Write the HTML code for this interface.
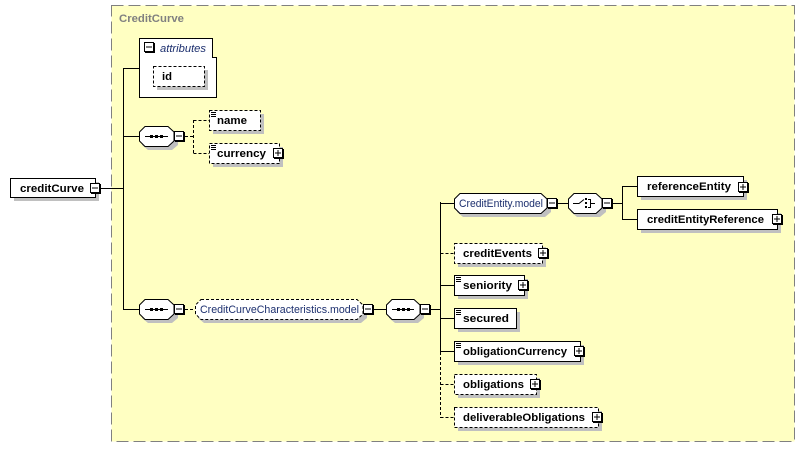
<!DOCTYPE html>
<html><head><meta charset="utf-8"><style>
html,body{margin:0;padding:0;background:#fff;}
svg{display:block;}
text{font-family:"Liberation Sans",Arial,sans-serif;font-size:11px;}
.b{font-weight:bold;fill:#000;}
.m{fill:#1c2f6e;}
</style></head><body>
<svg width="805" height="449" viewBox="0 0 805 449" xmlns="http://www.w3.org/2000/svg">
<defs>
<g id="minus"><rect x="1" y="1" width="10" height="10" fill="#000"/><rect x="0.5" y="0.5" width="9" height="9" fill="#fff" stroke="#000"/><line x1="2" y1="5" x2="8" y2="5" stroke="#000"/></g>
<g id="plus"><rect x="1" y="1" width="10" height="10" fill="#000"/><rect x="0.5" y="0.5" width="9" height="9" fill="#fff" stroke="#000"/><line x1="2" y1="5" x2="8" y2="5" stroke="#000"/><line x1="5" y1="2" x2="5" y2="8" stroke="#000"/></g>
<g id="ico"><line x1="0" y1="0.5" x2="5" y2="0.5" stroke="#000"/><line x1="0" y1="2.5" x2="5" y2="2.5" stroke="#000"/><line x1="0" y1="4.5" x2="5" y2="4.5" stroke="#000"/></g>
</defs>

<!-- yellow group box -->
<rect x="111.5" y="5.5" width="683" height="436" fill="#ffffc2" stroke="#808080" stroke-dasharray="12,5"/>
<text x="119" y="22" class="b" style="fill:#808080" textLength="65" lengthAdjust="spacingAndGlyphs">CreditCurve</text>

<!-- creditCurve root -->
<rect x="14" y="182" width="85" height="19" fill="#c0c0c0"/>
<rect x="10.5" y="178.5" width="85" height="19" fill="#fff" stroke="#000"/>
<text x="20" y="192" class="b" textLength="64" lengthAdjust="spacingAndGlyphs">creditCurve</text>
<use href="#minus" x="90" y="183"/>
<line x1="101" y1="188.5" x2="124" y2="188.5" stroke="#000"/>

<!-- main vertical -->
<line x1="123.5" y1="68" x2="123.5" y2="310" stroke="#000"/>

<!-- attributes -->
<line x1="123.5" y1="68.5" x2="139" y2="68.5" stroke="#000"/>
<polygon points="139.5,38.5 212.5,38.5 212.5,57.5 216.5,57.5 216.5,97.5 139.5,97.5" fill="#fff" stroke="#000"/>
<use href="#minus" x="144" y="42"/>
<text x="160" y="52" class="m" font-style="italic" textLength="46" lengthAdjust="spacingAndGlyphs">attributes</text>
<rect x="157" y="70" width="51" height="20" fill="#c0c0c0"/>
<rect x="153.5" y="66.5" width="51" height="20" fill="#fff" stroke="#000" stroke-dasharray="3,2"/>
<text x="162" y="80" class="b" textLength="10" lengthAdjust="spacingAndGlyphs">id</text>

<!-- sequence 1 -->
<line x1="123.5" y1="136.5" x2="139" y2="136.5" stroke="#000"/>
<polygon points="148,130 172,130 178,136 178,145 172,150 148,150 142,145 142,136" fill="#c0c0c0"/>
<polygon points="145,126.5 168,126.5 174,132 174,141 168,146.5 145,146.5 139.5,141 139.5,132" fill="#fff" stroke="#000"/>
<line x1="145" y1="136.5" x2="168" y2="136.5" stroke="#000"/>
<rect x="150" y="135" width="3" height="3" fill="#000"/><rect x="155" y="135" width="3" height="3" fill="#000"/><rect x="160" y="135" width="3" height="3" fill="#000"/>
<use href="#minus" x="174" y="131"/>
<line x1="185" y1="136.5" x2="193" y2="136.5" stroke="#000" stroke-dasharray="3,2"/>
<line x1="193.5" y1="120" x2="193.5" y2="153" stroke="#000" stroke-dasharray="3,2"/>
<line x1="193.5" y1="120.5" x2="209" y2="120.5" stroke="#000" stroke-dasharray="3,2"/>
<line x1="193.5" y1="153.5" x2="209" y2="153.5" stroke="#000" stroke-dasharray="3,2"/>

<rect x="213" y="114" width="51" height="20" fill="#c0c0c0"/>
<rect x="209.5" y="110.5" width="51" height="20" fill="#fff" stroke="#000" stroke-dasharray="3,2"/>
<use href="#ico" x="211" y="112"/>
<text x="217" y="124" class="b" textLength="30" lengthAdjust="spacingAndGlyphs">name</text>

<rect x="213" y="147" width="70" height="20" fill="#c0c0c0"/>
<rect x="209.5" y="143.5" width="70" height="20" fill="#fff" stroke="#000" stroke-dasharray="3,2"/>
<use href="#ico" x="211" y="145"/>
<text x="217" y="157" class="b" textLength="49" lengthAdjust="spacingAndGlyphs">currency</text>
<use href="#plus" x="273" y="148"/>

<!-- sequence 2 -->
<line x1="123.5" y1="309.5" x2="139" y2="309.5" stroke="#000"/>
<polygon points="148,303 172,303 178,309 178,318 172,323 148,323 142,318 142,309" fill="#c0c0c0"/>
<polygon points="145,299.5 168,299.5 174,305 174,314 168,319.5 145,319.5 139.5,314 139.5,305" fill="#fff" stroke="#000"/>
<line x1="145" y1="309.5" x2="168" y2="309.5" stroke="#000"/>
<rect x="150" y="308" width="3" height="3" fill="#000"/><rect x="155" y="308" width="3" height="3" fill="#000"/><rect x="160" y="308" width="3" height="3" fill="#000"/>
<use href="#minus" x="174" y="304"/>
<line x1="185" y1="309.5" x2="195" y2="309.5" stroke="#000" stroke-dasharray="3,2"/>

<!-- CreditCurveCharacteristics.model -->
<polygon points="204,303 361,303 367,309 367,318 361,323 204,323 198,318 198,309" fill="#c0c0c0"/>
<polygon points="201,299.5 357,299.5 363,305 363,314 357,319.5 201,319.5 195.5,314 195.5,305" fill="#fff" stroke="#000" stroke-dasharray="3,2"/>
<text x="200" y="313" class="m" textLength="159" lengthAdjust="spacingAndGlyphs">CreditCurveCharacteristics.model</text>
<use href="#minus" x="363" y="304"/>
<line x1="374" y1="309.5" x2="386" y2="309.5" stroke="#000"/>

<!-- sequence 3 -->
<polygon points="395,303 418,303 424,309 424,318 418,323 395,323 389,318 389,309" fill="#c0c0c0"/>
<polygon points="392,299.5 414,299.5 420,305 420,314 414,319.5 392,319.5 386.5,314 386.5,305" fill="#fff" stroke="#000"/>
<line x1="392" y1="309.5" x2="414" y2="309.5" stroke="#000"/>
<rect x="397" y="308" width="3" height="3" fill="#000"/><rect x="402" y="308" width="3" height="3" fill="#000"/><rect x="407" y="308" width="3" height="3" fill="#000"/>
<use href="#minus" x="420" y="304"/>
<line x1="431" y1="309.5" x2="440" y2="309.5" stroke="#000"/>

<!-- vertical line right -->
<line x1="440.5" y1="202" x2="440.5" y2="352" stroke="#000"/>
<line x1="440.5" y1="352" x2="440.5" y2="418" stroke="#000" stroke-dasharray="3,2"/>

<!-- CreditEntity.model -->
<line x1="440.5" y1="203.5" x2="454" y2="203.5" stroke="#000"/>
<polygon points="463,197 545,197 551,203 551,212 545,217 463,217 457,212 457,203" fill="#c0c0c0"/>
<polygon points="460,193.5 541,193.5 547,199 547,208 541,213.5 460,213.5 454.5,208 454.5,199" fill="#fff" stroke="#000"/>
<text x="459" y="207" class="m" textLength="84" lengthAdjust="spacingAndGlyphs">CreditEntity.model</text>
<use href="#minus" x="547" y="198"/>
<line x1="558" y1="203.5" x2="568" y2="203.5" stroke="#000"/>

<!-- choice -->
<polygon points="577,197 600,197 606,203 606,212 600,217 577,217 571,212 571,203" fill="#c0c0c0"/>
<polygon points="574,193.5 596,193.5 602,199 602,208 596,213.5 574,213.5 568.5,208 568.5,199" fill="#fff" stroke="#000"/>
<polyline points="573,203.5 579,203.5 584,199.5" fill="none" stroke="#000"/>
<rect x="585" y="198" width="2" height="2" fill="#000"/><rect x="585" y="202" width="2" height="2" fill="#000"/><rect x="585" y="206" width="2" height="2" fill="#000"/>
<polyline points="588,199.5 590.5,199.5 590.5,207.5 588,207.5" fill="none" stroke="#000"/>
<line x1="590" y1="203.5" x2="595" y2="203.5" stroke="#000"/>
<use href="#minus" x="602" y="198"/>
<line x1="613" y1="203.5" x2="622" y2="203.5" stroke="#000"/>
<line x1="622.5" y1="186" x2="622.5" y2="220" stroke="#000"/>
<line x1="622.5" y1="186.5" x2="637" y2="186.5" stroke="#000"/>
<line x1="622.5" y1="219.5" x2="637" y2="219.5" stroke="#000"/>

<rect x="641" y="180" width="106" height="20" fill="#c0c0c0"/>
<rect x="637.5" y="176.5" width="106" height="20" fill="#fff" stroke="#000"/>
<text x="647" y="190" class="b" textLength="84" lengthAdjust="spacingAndGlyphs">referenceEntity</text>
<use href="#plus" x="738" y="182"/>

<rect x="641" y="213" width="140" height="20" fill="#c0c0c0"/>
<rect x="637.5" y="209.5" width="140" height="20" fill="#fff" stroke="#000"/>
<text x="647" y="223" class="b" textLength="117" lengthAdjust="spacingAndGlyphs">creditEntityReference</text>
<use href="#plus" x="772" y="214"/>

<!-- creditEvents -->
<line x1="440.5" y1="253.5" x2="454" y2="253.5" stroke="#000" stroke-dasharray="3,2"/>
<rect x="458" y="247" width="88" height="20" fill="#c0c0c0"/>
<rect x="454.5" y="243.5" width="88" height="20" fill="#fff" stroke="#000" stroke-dasharray="3,2"/>
<text x="463" y="257" class="b" textLength="69" lengthAdjust="spacingAndGlyphs">creditEvents</text>
<use href="#plus" x="538" y="248"/>

<!-- seniority -->
<line x1="440.5" y1="285.5" x2="454" y2="285.5" stroke="#000"/>
<rect x="458" y="279" width="70" height="20" fill="#c0c0c0"/>
<rect x="454.5" y="275.5" width="70" height="20" fill="#fff" stroke="#000"/>
<use href="#ico" x="456" y="277"/>
<text x="463" y="289" class="b" textLength="49" lengthAdjust="spacingAndGlyphs">seniority</text>
<use href="#plus" x="518" y="280"/>

<!-- secured -->
<line x1="440.5" y1="318.5" x2="454" y2="318.5" stroke="#000"/>
<rect x="458" y="312" width="62" height="20" fill="#c0c0c0"/>
<rect x="454.5" y="308.5" width="62" height="20" fill="#fff" stroke="#000"/>
<use href="#ico" x="456" y="310"/>
<text x="463" y="322" class="b" textLength="46" lengthAdjust="spacingAndGlyphs">secured</text>

<!-- obligationCurrency -->
<line x1="440.5" y1="351.5" x2="454" y2="351.5" stroke="#000"/>
<rect x="458" y="345" width="126" height="20" fill="#c0c0c0"/>
<rect x="454.5" y="341.5" width="126" height="20" fill="#fff" stroke="#000"/>
<use href="#ico" x="456" y="343"/>
<text x="463" y="355" class="b" textLength="104" lengthAdjust="spacingAndGlyphs">obligationCurrency</text>
<use href="#plus" x="574" y="346"/>

<!-- obligations -->
<line x1="440.5" y1="384.5" x2="454" y2="384.5" stroke="#000" stroke-dasharray="3,2"/>
<rect x="458" y="378" width="82" height="20" fill="#c0c0c0"/>
<rect x="454.5" y="374.5" width="82" height="20" fill="#fff" stroke="#000" stroke-dasharray="3,2"/>
<text x="463" y="388" class="b" textLength="61" lengthAdjust="spacingAndGlyphs">obligations</text>
<use href="#plus" x="530" y="379"/>

<!-- deliverableObligations -->
<line x1="440.5" y1="417.5" x2="454" y2="417.5" stroke="#000" stroke-dasharray="3,2"/>
<rect x="458" y="411" width="144" height="20" fill="#c0c0c0"/>
<rect x="454.5" y="407.5" width="144" height="20" fill="#fff" stroke="#000" stroke-dasharray="3,2"/>
<text x="463" y="421" class="b" textLength="122" lengthAdjust="spacingAndGlyphs">deliverableObligations</text>
<use href="#plus" x="592" y="412"/>
</svg>
</body></html>
